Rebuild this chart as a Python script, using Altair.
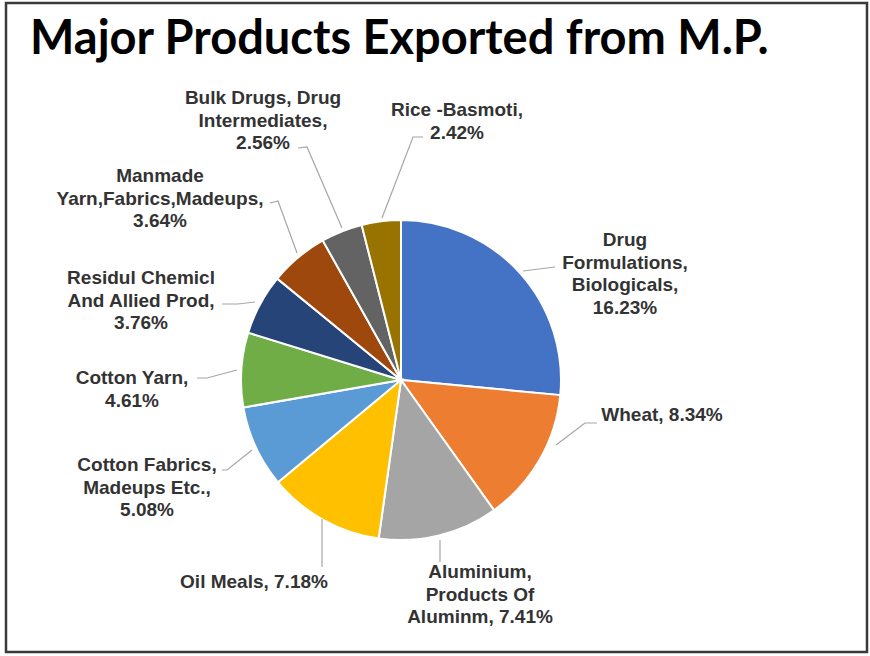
import altair as alt
import pandas as pd

# ---------------- data ----------------
TITLE = "Major Products Exported from M.P."
categories = [
    "Drug Formulations, Biologicals",
    "Wheat",
    "Aluminium, Products Of Aluminm",
    "Oil Meals",
    "Cotton Fabrics, Madeups Etc.",
    "Cotton Yarn",
    "Residul Chemicl And Allied Prod",
    "Manmade Yarn,Fabrics,Madeups",
    "Bulk Drugs, Drug Intermediates",
    "Rice -Basmoti",
]
shares = [16.23, 8.34, 7.41, 7.18, 5.08, 4.61, 3.76, 3.64, 2.56, 2.42]
# label text lines; {p} is replaced by the share
label_lines = [
    ["Drug", "Formulations,", "Biologicals,", "{p}"],
    ["Wheat, {p}"],
    ["Aluminium,", "Products Of", "Aluminm, {p}"],
    ["Oil Meals, {p}"],
    ["Cotton Fabrics,", "Madeups Etc.,", "{p}"],
    ["Cotton Yarn,", "{p}"],
    ["Residul Chemicl", "And Allied Prod,", "{p}"],
    ["Manmade", "Yarn,Fabrics,Madeups,", "{p}"],
    ["Bulk Drugs, Drug", "Intermediates,", "{p}"],
    ["Rice -Basmoti,", "{p}"],
]
colors = ["#4472C4", "#ED7D31", "#A5A5A5", "#FFC000", "#5B9BD5",
          "#70AD47", "#264478", "#9E480E", "#636363", "#997300"]

# ---------------- layout (pixels) ----------------
W, H = 870, 656
PIE_CX, PIE_CY, PIE_R = 401, 380, 160
LINE_H = 22.5
label_anchor = [(625, 240), (662, 415), (480, 572), (254, 582), (147, 465),
                (132, 378), (141, 278), (160, 176), (263, 98), (457, 110)]
leader_paths = [
    [(523, 271), (555, 267)],
    [(556, 445), (585, 423), (597, 423)],
    [(440, 540), (440, 562)],
    [(322, 519), (322, 567)],
    [(252, 450), (227, 470), (222, 470)],
    [(237, 370), (207, 378), (197, 378)],
    [(255, 302), (238, 304), (222, 304)],
    [(297, 253), (278, 201), (270, 203)],
    [(342, 228), (307, 147), (298, 148)],
    [(382, 218), (413, 137), (423, 137)],
]

# ---------------- tables ----------------
pie_df = pd.DataFrame({"cat": categories, "share": shares, "idx": range(len(categories))})

rows = []
for i, (lines, (cx, cy)) in enumerate(zip(label_lines, label_anchor)):
    pct = f"{shares[i]:.2f}%"
    for j, ln in enumerate(lines):
        rows.append({"cat": categories[i], "text": ln.replace("{p}", pct),
                     "x": cx, "y": cy + j * LINE_H})
lab_df = pd.DataFrame(rows)

lrows = []
for i, path in enumerate(leader_paths):
    for k, (px, py) in enumerate(path):
        lrows.append({"cat": categories[i], "k": k, "x": px, "y": py})
lead_df = pd.DataFrame(lrows)

xs = alt.Scale(domain=[0, W], nice=False, zero=False)
ys = alt.Scale(domain=[0, H], nice=False, zero=False, reverse=True)

border = alt.Chart(pd.DataFrame({"a": [0]})).mark_rect(
    fill="white", stroke="#3a3a3a", strokeWidth=2.5
).encode(x=alt.value(6), x2=alt.value(867), y=alt.value(3), y2=alt.value(652))

title = alt.Chart(pd.DataFrame({"t": [TITLE]})).mark_text(
    font="Lato", fontSize=47, fontWeight="bold", color="#000000",
    align="left", baseline="alphabetic"
).encode(text="t:N", x=alt.value(30), y=alt.value(54))

pie = alt.Chart(pie_df).mark_arc(outerRadius=PIE_R, stroke="white", strokeWidth=2).encode(
    theta=alt.Theta("share:Q", stack=True),
    color=alt.Color("cat:N", scale=alt.Scale(domain=categories, range=colors), legend=None),
    order=alt.Order("idx:Q"),
    x=alt.value(PIE_CX),
    y=alt.value(PIE_CY),
)

leaders = alt.Chart(lead_df).mark_line(color="#A6A6A6", strokeWidth=1.2).encode(
    x=alt.X("x:Q", scale=xs, axis=None),
    y=alt.Y("y:Q", scale=ys, axis=None),
    detail="cat:N",
    order="k:Q",
)

labels = alt.Chart(lab_df).mark_text(
    font="Liberation Sans", fontSize=19, fontWeight="bold", color="#333333",
    align="center", baseline="middle"
).encode(
    x=alt.X("x:Q", scale=xs, axis=None),
    y=alt.Y("y:Q", scale=ys, axis=None),
    text="text:N",
)

chart = alt.layer(border, title, pie, leaders, labels).properties(
    width=W, height=H,
    autosize=alt.AutoSizeParams(type="none"),
    padding=0,
    background="white",
).configure_view(stroke=None)

chart.save("out.html", embed_options={"renderer": "svg", "actions": False})
